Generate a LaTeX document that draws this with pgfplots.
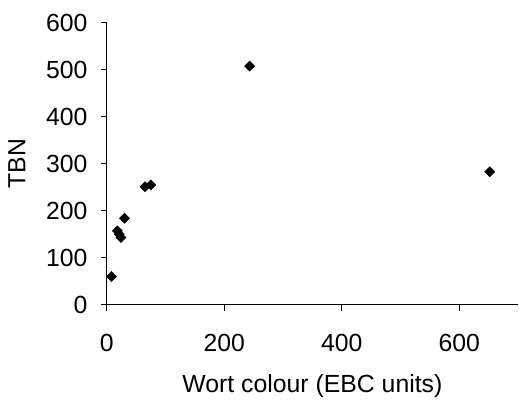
\documentclass[border=0pt]{standalone}
\usepackage{fontspec}
\setmainfont{Liberation Sans}
\usepackage{pgfplots}
\pgfplotsset{compat=1.18}
\begin{document}
\fontsize{25}{29}\selectfont
\begin{tikzpicture}[x=1bp,y=1bp]
\begin{axis}[
  scale only axis,
  width=413bp, height=283bp,
  xmin=0, xmax=700, ymin=0, ymax=600,
  axis x line*=bottom, axis y line*=left,
  axis line style={line width=1.2pt, -},
  xtick={0,200,400,600}, ytick={0,100,...,600},
  tick align=outside, major tick length=6bp,
  tick style={line width=1.2pt, black},
  /pgf/number format/assume math mode=true,
  ticklabel style={font=\fontsize{25}{29}\selectfont},
  xticklabel style={yshift=-15bp},
  yticklabel style={xshift=-5bp},
  xlabel={Wort colour (EBC units)},
  ylabel={TBN},
  label style={font=\fontsize{25}{29}\selectfont},
  xlabel style={yshift=-6bp},
  ylabel style={yshift=4bp},
  clip=false,
]
\addplot[only marks, mark=square*, mark size=3.6bp, mark options={rotate=45}, black] coordinates {
  (8,60) (18,157) (21,150) (24,143) (30,184) (65,251) (75,255) (243,508) (652,283)
};
\end{axis}
\path (current axis.south west) ++(-105bp,-90bp) rectangle ++(519bp,396bp);
\end{tikzpicture}
\end{document}
